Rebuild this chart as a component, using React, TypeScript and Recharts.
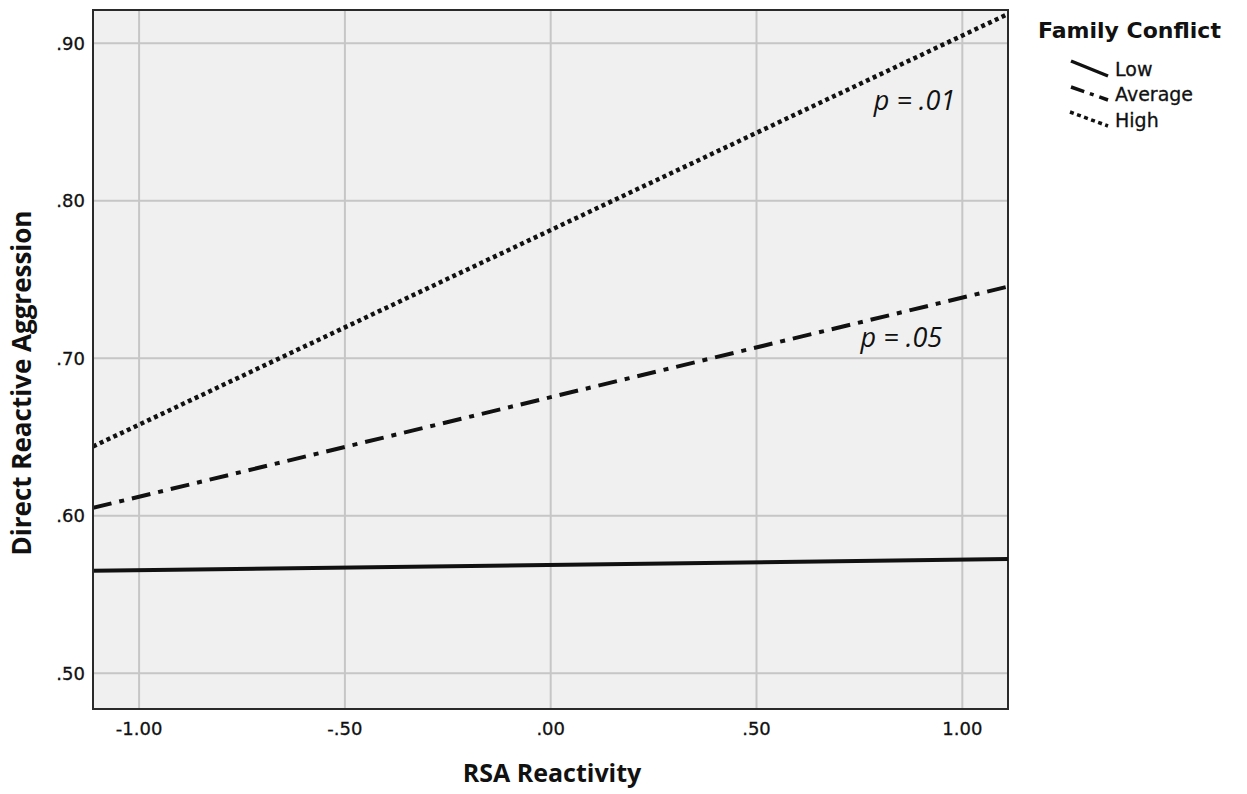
import React from "react";
import {
  LineChart,
  Line,
  XAxis,
  YAxis,
  CartesianGrid,
  ReferenceArea,
  ReferenceDot,
  Legend,
} from "recharts";

// RSA reactivity at the two ends of the plotted range
const rsaValues = [-1.112, 1.111];
const lowValues = [0.565, 0.5725];
const averageValues = [0.605, 0.7455];
const highValues = [0.644, 0.9186];

const xTicks = [-1, -0.5, 0, 0.5, 1];
const yTicks = [0.5, 0.6, 0.7, 0.8, 0.9];
const xDomain: [number, number] = [-1.112, 1.111];
const yDomain: [number, number] = [0.4773, 0.9211];

const SERIES = [
  { key: "low", label: "Low", dash: undefined as string | undefined, width: 4 },
  { key: "average", label: "Average", dash: "19 8 5 8", width: 4 },
  { key: "high", label: "High", dash: "4 3.5", width: 4.5 },
];

const data = rsaValues.map((x, i) => ({
  x,
  low: lowValues[i],
  average: averageValues[i],
  high: highValues[i],
}));

const fmt = (v: number) => v.toFixed(2).replace(/^(-?)0\./, "$1.");

const tickStyle = {
  fontSize: 18,
  fill: "#111",
  fontFamily: "DejaVu Sans",
  stroke: "#111",
  strokeWidth: 0.3,
};
const titleFont = "'Open Sans', sans-serif";

function XTitle() {
  return (
    <text
      x={552}
      y={782}
      textAnchor="middle"
      fontSize={25}
      fontWeight={700}
      fontFamily={titleFont}
      fill="#111"
    >
      RSA Reactivity
    </text>
  );
}

function YTitle() {
  const cx = 31;
  const cy = 383;
  return (
    <text
      x={cx}
      y={cy}
      transform={`rotate(-90 ${cx} ${cy})`}
      textAnchor="middle"
      fontSize={26}
      fontWeight={700}
      fontFamily={titleFont}
      fill="#111"
    >
      Direct Reactive Aggression
    </text>
  );
}

function FamilyLegend() {
  // sample strokes drawn as short diagonal segments, like the original
  const samples = [
    { x1: 41, y1: 51, x2: 78, y2: 66, ty: 66 },
    { x1: 41, y1: 77, x2: 78, y2: 90, ty: 91 },
    { x1: 40, y1: 102, x2: 78, y2: 116, ty: 117 },
  ];
  return (
    <svg width={217} height={140}>
      <text
        x={8}
        y={28}
        fontSize={22}
        fontWeight={700}
        fontFamily="DejaVu Sans"
        fill="#111"
      >
        Family Conflict
      </text>
      {SERIES.map((s, i) => (
        <g key={s.key}>
          <line
            x1={samples[i].x1}
            y1={samples[i].y1}
            x2={samples[i].x2}
            y2={samples[i].y2}
            stroke="#111"
            strokeWidth={3.5}
            strokeDasharray={s.key === "average" ? "14 6 4 6" : s.dash}
          />
          <text
            x={85}
            y={samples[i].ty}
            fontSize={19}
            fontFamily="DejaVu Sans"
            fill="#111"
            stroke="#111"
            strokeWidth={0.3}
          >
            {s.label}
          </text>
        </g>
      ))}
    </svg>
  );
}

const noteStyle = {
  fill: "#111",
  fontSize: 27,
  fontStyle: "italic",
  fontFamily: titleFont,
};

export default function App() {
  return (
    <div style={{ position: "absolute", left: 0, top: 0, background: "#fff" }}>
      <LineChart
        width={1247}
        height={794}
        data={data}
        margin={{ top: 10, right: 239, bottom: 0, left: 0 }}
      >
        <CartesianGrid
          fill="#f0f0f0"
          stroke="#c6c6c6"
          strokeWidth={2}
          horizontalValues={yTicks}
          verticalValues={xTicks}
        />
        <XAxis
          dataKey="x"
          type="number"
          domain={xDomain}
          ticks={xTicks}
          allowDataOverflow
          tickFormatter={fmt}
          tick={tickStyle}
          tickLine={false}
          tickSize={0}
          tickMargin={13}
          height={85}
          axisLine={{ stroke: "#2a2a2a", strokeWidth: 2 }}
          label={<XTitle />}
        />
        <YAxis
          type="number"
          domain={yDomain}
          ticks={yTicks}
          allowDataOverflow
          tickFormatter={fmt}
          tick={tickStyle}
          tickLine={false}
          tickSize={0}
          tickMargin={8}
          width={93}
          axisLine={{ stroke: "#2a2a2a", strokeWidth: 2 }}
          label={<YTitle />}
        />
        <ReferenceArea
          x1={xDomain[0]}
          x2={xDomain[1]}
          y1={yDomain[0]}
          y2={yDomain[1]}
          fill="none"
          fillOpacity={0}
          stroke="#2a2a2a"
          strokeWidth={2}
        />
        {SERIES.map((s) => (
          <Line
            key={s.key}
            dataKey={s.key}
            name={s.label}
            type="linear"
            stroke="#111"
            strokeWidth={s.width}
            strokeDasharray={s.dash}
            dot={false}
            activeDot={false}
            isAnimationActive={false}
          />
        ))}
        <ReferenceDot
          x={0.884}
          y={0.864}
          r={0}
          stroke="none"
          fill="none"
          label={{ value: "p = .01", position: "center", ...noteStyle }}
        />
        <ReferenceDot
          x={0.852}
          y={0.713}
          r={0}
          stroke="none"
          fill="none"
          label={{ value: "p = .05", position: "center", ...noteStyle }}
        />
        <Legend
          layout="vertical"
          align="center"
          verticalAlign="middle"
          content={() => <FamilyLegend />}
          wrapperStyle={{ left: 1030, top: 10, width: 217, height: 140 }}
        />
      </LineChart>
    </div>
  );
}
